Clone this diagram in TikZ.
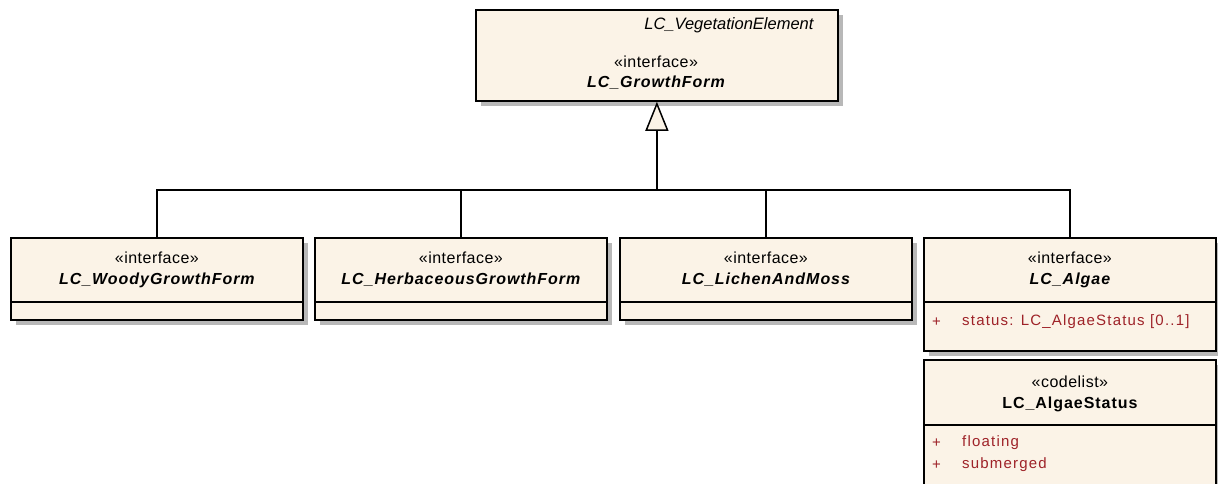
\documentclass[tikz,border=0pt]{standalone}
\usepackage{fontspec}
\setmainfont{Liberation Sans}
\newfontfamily\stereofont[LetterSpace=3]{Liberation Sans}
\newfontfamily\namefont[LetterSpace=6]{Liberation Sans}
\newfontfamily\attrfont[LetterSpace=8]{Liberation Sans}
\usetikzlibrary{arrows.meta,shadows}
\definecolor{boxfill}{RGB}{251,243,231}
\definecolor{shadowgray}{RGB}{184,184,184}
\definecolor{attrred}{RGB}{158,34,40}
\tikzset{
  classbox/.style={draw, line width=1.8pt, fill=boxfill, anchor=north west, inner sep=0pt,
    minimum width=292pt, minimum height=82pt,
    drop shadow={shadow xshift=5pt, shadow yshift=-5pt, fill=shadowgray, opacity=1}},
  stereo/.style={font=\stereofont\fontsize{16}{18}\selectfont},
  cname/.style={font=\namefont\fontsize{16}{18}\selectfont\bfseries\itshape},
  lname/.style={font=\namefont\fontsize{16}{18}\selectfont\bfseries},
  ital/.style={font=\fontsize{16.5}{18}\selectfont\itshape},
  attr/.style={font=\attrfont\fontsize{15}{18}\selectfont, text=attrred, anchor=west, inner sep=0pt},
  sep/.style={line width=1.8pt},
  gen/.style={line width=1.5pt}
}
\begin{document}
\begin{tikzpicture}[x=1pt, y=-1pt]
  \useasboundingbox (0,0) rectangle (1218,484);
  % parent interface
  \node[classbox, minimum width=362pt, minimum height=91pt] (growth) at (475,9) {};
  \node[ital, anchor=east] (vegel) at (817,25) {LC\_VegetationElement};
  \node[stereo] (growths) at (656,62) {«interface»};
  \node[cname] (growthn) at (656,83) {LC\_GrowthForm};
  % child interfaces
  \node[classbox] (woody) at (10,237) {};
  \node[classbox] (herb) at (314,237) {};
  \node[classbox] (lichen) at (619,237) {};
  \node[classbox, minimum height=113pt] (algae) at (923,237) {};
  \foreach \b/\t in {woody/LC\_WoodyGrowthForm, herb/LC\_HerbaceousGrowthForm,
      lichen/LC\_LichenAndMoss, algae/LC\_Algae}{
    \node[stereo] (\b s) at ([yshift=-21pt]\b.north) {«interface»};
    \node[cname] (\b n) at ([yshift=-43pt]\b.north) {\t};
    \draw[sep] ([yshift=-65pt]\b.north west) -- ([yshift=-65pt]\b.north east);
  }
  \node[attr] (algaep) at (932,322) {+};
  \node[attr] (algaea) at (962,322) {status: LC\_AlgaeStatus [0..1]};
  % code list
  \node[classbox, minimum height=130pt] (status) at (923,359) {};
  \node[stereo] (statuss) at ([yshift=-23pt]status.north) {«codelist»};
  \node[lname] (statusn) at ([yshift=-45pt]status.north) {LC\_AlgaeStatus};
  \draw[sep] ([yshift=-66pt]status.north west) -- ([yshift=-66pt]status.north east);
  \node[attr] (floatp) at (932,443) {+};
  \node[attr] (floatv) at (962,443) {floating};
  \node[attr] (submp) at (932,465) {+};
  \node[attr] (submv) at (962,465) {submerged};
  % generalisation
  \coordinate (joint) at (growth.south |- 0,190);
  \foreach \b in {woody,herb,lichen,algae}
    \draw[gen] (\b.north) |- (joint);
  \draw[gen, -{Triangle[length=29pt,width=23pt,fill=boxfill]}] (joint) -- (growth.south);
\end{tikzpicture}
\end{document}
